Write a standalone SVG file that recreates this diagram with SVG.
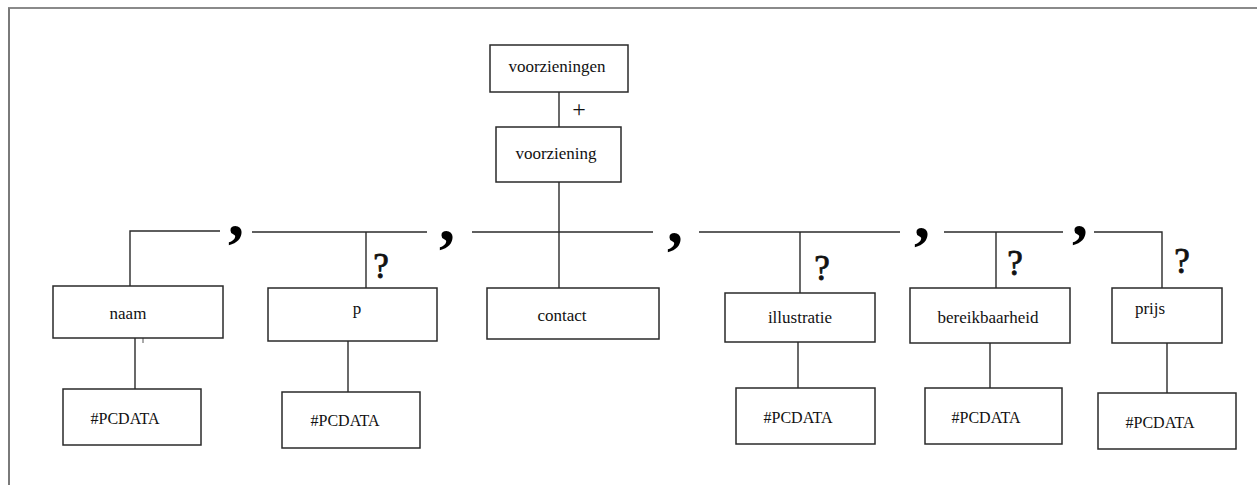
<svg xmlns="http://www.w3.org/2000/svg" width="1257" height="485" viewBox="0 0 1257 485">
<style>
.box{fill:#fff;stroke:#2a2a2a;stroke-width:1.5}
.ln{fill:none;stroke:#2a2a2a;stroke-width:1.4}
.lbl{font-family:"Liberation Serif","Times New Roman",serif;font-size:17px;fill:#111;text-anchor:middle}
.pc{font-family:"Liberation Serif","Times New Roman",serif;font-size:16px;fill:#111;text-anchor:middle}
.q{font-family:"Liberation Serif","Times New Roman",serif;font-size:35px;fill:#111;stroke:#111;stroke-width:0.8;text-anchor:middle}
.cm{font-family:"Liberation Serif","Times New Roman",serif;font-size:64px;font-weight:bold;fill:#000;text-anchor:middle}
.pl{font-family:"Liberation Serif","Times New Roman",serif;font-size:24px;fill:#111;text-anchor:middle}
</style>
<rect width="1257" height="485" fill="#fff"/>
<g id="frame">
<line x1="8" y1="8" x2="1257" y2="8" stroke="#8a8a8a" stroke-width="2"/>
<line x1="9" y1="8" x2="9" y2="485" stroke="#7a7a7a" stroke-width="2"/>
</g>
<g id="connectors">
<line class="ln" x1="559" y1="92" x2="559" y2="127"/>
<line class="ln" x1="559" y1="182" x2="559" y2="288"/>
<path class="ln" d="M130 286 V231 H220"/>
<line class="ln" x1="252" y1="232" x2="427" y2="232"/>
<line class="ln" x1="472" y1="232" x2="653" y2="232"/>
<line class="ln" x1="699" y1="232" x2="900" y2="232"/>
<line class="ln" x1="944" y1="232" x2="1063" y2="232"/>
<path class="ln" d="M1094 232 H1162 V288"/>
<line class="ln" x1="366" y1="232" x2="366" y2="288"/>
<line class="ln" x1="800" y1="232" x2="800" y2="293"/>
<line class="ln" x1="996" y1="232" x2="996" y2="288"/>
<line class="ln" x1="135" y1="338" x2="135" y2="389"/>
<line class="ln" x1="348" y1="341" x2="348" y2="392"/>
<line class="ln" x1="798" y1="342" x2="798" y2="388"/>
<line class="ln" x1="990" y1="343" x2="990" y2="388"/>
<line class="ln" x1="1167" y1="343" x2="1167" y2="393"/>
<line x1="118" y1="334" x2="118" y2="336" stroke="#777" stroke-width="1"/>
<line x1="143" y1="338" x2="143" y2="343" stroke="#555" stroke-width="1"/>
<text class="pl" x="579" y="117">+</text>
<text class="cm" x="236" y="235">,</text>
<text class="cm" x="447" y="240">,</text>
<text class="cm" x="675" y="242">,</text>
<text class="cm" x="922" y="237">,</text>
<text class="cm" x="1080" y="235">,</text>
<text class="q" x="381" y="278">?</text>
<text class="q" x="822" y="280">?</text>
<text class="q" x="1015" y="275">?</text>
<text class="q" x="1182" y="273">?</text>
</g>
<g id="voorzieningen"><rect class="box" x="490" y="45" width="138" height="47"/><text class="lbl" x="557" y="72">voorzieningen</text></g>
<g id="voorziening"><rect class="box" x="496" y="127" width="125" height="55"/><text class="lbl" x="556" y="159">voorziening</text></g>
<g id="naam"><rect class="box" x="53" y="286" width="170" height="52"/><text class="lbl" x="128" y="319">naam</text></g>
<g id="p"><rect class="box" x="268" y="288" width="169" height="53"/><text class="lbl" x="357" y="314">p</text></g>
<g id="contact"><rect class="box" x="487" y="288" width="172" height="51"/><text class="lbl" x="562" y="321">contact</text></g>
<g id="illustratie"><rect class="box" x="725" y="293" width="150" height="49"/><text class="lbl" x="800" y="323">illustratie</text></g>
<g id="bereikbaarheid"><rect class="box" x="910" y="288" width="160" height="55"/><text class="lbl" x="988" y="323">bereikbaarheid</text></g>
<g id="prijs"><rect class="box" x="1112" y="288" width="110" height="55"/><text class="lbl" x="1150" y="314">prijs</text></g>
<g id="pcdata-naam"><rect class="box" x="63" y="389" width="138" height="56"/><text class="pc" x="125" y="424">#PCDATA</text></g>
<g id="pcdata-p"><rect class="box" x="282" y="392" width="138" height="56"/><text class="pc" x="345" y="426">#PCDATA</text></g>
<g id="pcdata-illustratie"><rect class="box" x="736" y="388" width="139" height="56"/><text class="pc" x="798" y="423">#PCDATA</text></g>
<g id="pcdata-bereikbaarheid"><rect class="box" x="925" y="388" width="137" height="56"/><text class="pc" x="986" y="423">#PCDATA</text></g>
<g id="pcdata-prijs"><rect class="box" x="1098" y="393" width="138" height="56"/><text class="pc" x="1160" y="428">#PCDATA</text></g>
</svg>
